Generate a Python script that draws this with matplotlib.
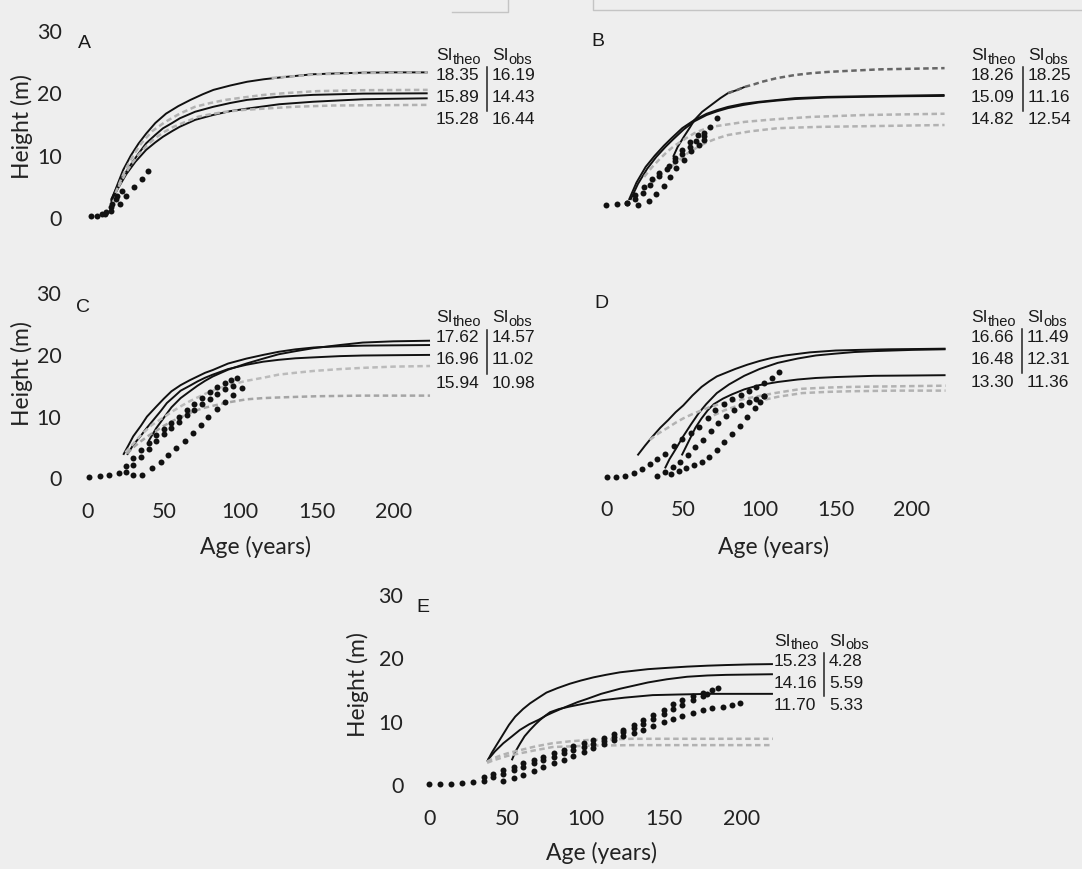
import matplotlib
matplotlib.use('Agg')
import matplotlib.pyplot as plt
from matplotlib.lines import Line2D

W, H = 1082, 869

# ---------------- Panel A ----------------
A_solid_age = [[15, 19, 23, 28, 33, 38, 44, 51, 59, 67, 75, 82, 93, 104, 115, 126, 147, 165, 180, 200, 222],
               [15, 20, 27, 33, 38, 44, 49, 55, 60, 70, 82, 93, 104, 125, 147, 180, 222],
               [16, 20, 25, 31, 38, 44, 49, 55, 60, 70, 82, 93, 104, 125, 147, 180, 222]]
A_solid_h = [[2.6, 5.2, 7.7, 10.0, 11.9, 13.5, 15.2, 16.7, 17.9, 18.9, 19.8, 20.5, 21.2, 21.8, 22.2, 22.5, 23.0, 23.15, 23.25, 23.3, 23.3],
             [2.9, 5.5, 8.2, 10.3, 11.95, 13.3, 14.35, 15.2, 15.95, 17.0, 17.8, 18.4, 18.9, 19.4, 19.7, 19.9, 19.95],
             [3.1, 4.9, 7.0, 9.0, 10.9, 12.1, 13.0, 13.9, 14.6, 15.7, 16.5, 17.1, 17.5, 18.2, 18.6, 19.0, 19.15]]
A_dash_age = [[18, 22, 25, 30, 35, 42, 50, 60, 70, 80, 90, 102, 115, 130, 150, 180, 222],
              [20, 24, 28, 33, 38, 44, 50, 56, 62, 72, 80, 90, 102, 115, 135, 160, 222],
              [120, 150, 180, 222]]
A_dash_h = [[4.0, 6.4, 8.0, 10.2, 12.0, 13.9, 15.3, 16.7, 17.8, 18.4, 18.9, 19.3, 19.7, 20.0, 20.3, 20.45, 20.5],
            [5.0, 6.9, 8.5, 10.1, 11.5, 12.8, 13.8, 14.6, 15.2, 16.2, 16.6, 17.0, 17.3, 17.5, 17.8, 18.0, 18.1],
            [22.4, 23.0, 23.2, 23.3]]
A_dot_age = [[2, 9, 15, 21, 25, 30, 35, 39],
             [6, 11, 15, 18, 22],
             [12, 16, 19]]
A_dot_h = [[0.35, 0.7, 1.2, 2.3, 3.5, 5.0, 6.3, 7.6],
           [0.4, 0.7, 1.7, 3.0, 4.4],
           [1.0, 2.2, 3.5]]
A_si_theo = [18.35, 15.89, 15.28]
A_si_obs = [16.19, 14.43, 16.44]

# ---------------- Panel B ----------------
B_solid_age = [[15, 20, 26, 32, 38, 43, 50, 58, 66, 73, 80, 90, 100, 112, 124, 145, 168, 195, 222],
               [16, 21, 27, 33, 39, 44, 51, 58, 66, 73, 80, 90, 100, 112, 124, 145, 168, 195, 222],
               [44, 47, 51, 55, 58, 63, 69, 75, 80, 86, 91]]
B_solid_h = [[0.8, 3.6, 6.1, 7.9, 9.5, 10.7, 12.3, 13.6, 14.6, 15.2, 15.7, 16.2, 16.5, 16.8, 17.1, 17.3, 17.4, 17.5, 17.6],
             [0.8, 3.4, 5.8, 7.7, 9.3, 10.5, 12.1, 13.4, 14.4, 15.0, 15.5, 16.0, 16.4, 16.7, 16.95, 17.2, 17.3, 17.4, 17.45],
             [7.7, 9.3, 10.9, 12.4, 13.6, 14.9, 16.0, 17.1, 17.9, 18.4, 18.9]]
B_dash_age = [[80, 86, 91, 97, 102, 112, 124, 135, 146, 162, 179, 200, 222],
              [25, 30, 35, 40, 45, 52, 58, 64, 69, 80, 91, 110, 135, 170, 222],
              [30, 36, 42, 48, 53, 59, 65, 72, 80, 95, 113, 140, 168, 222]]
B_dash_h = [[17.9, 18.4, 18.9, 19.3, 19.7, 20.3, 20.8, 21.1, 21.3, 21.5, 21.7, 21.8, 21.9],
            [4.5, 6.0, 7.3, 8.5, 9.5, 10.6, 11.5, 12.1, 12.5, 12.9, 13.3, 13.7, 14.1, 14.4, 14.6],
            [3.5, 4.8, 6.0, 7.2, 8.2, 9.1, 9.9, 10.6, 11.2, 11.8, 12.3, 12.5, 12.6, 12.8]]
B_dot_age = [[0, 7, 14, 19, 25, 30, 35, 41, 45, 50, 55, 60, 64, 68, 73],
             [14, 19, 24, 29, 35, 40, 45, 50, 55, 59, 64],
             [21, 28, 33, 38, 42, 46, 51, 56, 61, 64]]
B_dot_h = [[0, 0.16, 0.37, 1.6, 2.9, 4.1, 5.2, 6.2, 7.5, 8.8, 10.1, 11.2, 11.6, 12.5, 13.9],
           [0.4, 1.0, 2.0, 3.2, 4.6, 5.8, 7.0, 8.2, 9.3, 10.2, 11.0],
           [0, 0.7, 1.8, 3.1, 4.5, 6.0, 7.2, 8.7, 9.6, 10.4]]
B_si_theo = [18.26, 15.09, 14.82]
B_si_obs = [18.25, 11.16, 12.54]

# ---------------- Panel C ----------------
C_solid_age = [[23.5, 27, 30, 35, 39, 45, 50, 55, 61, 67, 72, 77, 82, 92, 104, 115, 125, 136, 148, 165, 180, 200, 224],
               [26, 30, 35, 39, 43, 48, 52, 57, 61, 67, 72, 77, 82, 92, 104, 115, 125, 136, 148, 165, 180, 200, 224],
               [40, 45, 50, 55, 61, 67, 72, 77, 82, 92, 104, 115, 125, 136, 148, 165, 180, 200, 224]]
C_solid_h = [[3.8, 5.4, 6.8, 8.5, 10.0, 11.6, 12.9, 14.1, 15.1, 15.9, 16.5, 17.1, 17.55, 18.6, 19.4, 20.0, 20.5, 20.9, 21.2, 21.4, 21.5, 21.55, 21.6],
             [3.8, 5.4, 6.9, 8.2, 9.4, 10.9, 12.2, 13.3, 14.2, 15.0, 15.7, 16.3, 16.8, 17.7, 18.4, 18.9, 19.2, 19.45, 19.6, 19.8, 19.9, 19.95, 20.0],
             [6.0, 8.1, 9.8, 11.5, 13.0, 14.1, 15.0, 15.8, 16.5, 17.6, 18.6, 19.4, 20.1, 20.6, 21.1, 21.6, 22.0, 22.2, 22.3]]
C_dash_age = [[25, 30, 35, 42, 50, 56, 62, 67, 72, 78, 85, 94, 104, 115, 125, 136, 148, 165, 180, 200, 224],
              [26, 30, 35, 40, 45, 50, 55, 61, 70, 76, 83, 92, 104, 115, 125, 137, 150, 180, 224]]
C_dash_h = [[4.2, 5.6, 7.0, 8.6, 9.9, 10.9, 11.8, 12.5, 13.1, 13.8, 14.5, 15.2, 15.8, 16.3, 16.8, 17.1, 17.4, 17.7, 17.9, 18.1, 18.2],
            [4.0, 5.0, 6.0, 6.9, 7.7, 8.5, 9.2, 9.9, 10.9, 11.4, 11.8, 12.3, 12.8, 13.0, 13.1, 13.2, 13.3, 13.4, 13.4]]
C_dot_age = [[1, 8, 14, 21, 25, 30, 35, 40, 45, 50, 55, 60, 65, 70, 75, 80, 85, 90, 94, 98],
             [25, 30, 35, 40, 45, 50, 55, 60, 65, 70, 75, 80, 85, 90, 95],
             [30, 36, 42, 48, 53, 58, 64, 69, 74, 79, 85, 90, 95, 101]]
C_dot_h = [[0.2, 0.3, 0.5, 0.8, 2.0, 3.3, 4.6, 5.8, 7.0, 8.0, 9.0, 10.0, 11.0, 12.0, 13.0, 14.0, 14.8, 15.5, 16.0, 16.3],
           [1.0, 2.2, 3.5, 4.8, 6.0, 7.1, 8.2, 9.2, 10.2, 11.1, 12.0, 12.9, 13.7, 14.4, 15.0],
           [0.5, 0.6, 1.6, 2.7, 3.8, 4.9, 6.0, 7.3, 8.7, 10.0, 11.2, 12.4, 13.5, 14.6]]
C_si_theo = [17.62, 16.96, 15.94]
C_si_obs = [14.57, 11.02, 10.98]

# ---------------- Panel D ----------------
D_solid_age = [[20, 25, 30, 35, 40, 45, 50, 56, 62, 67, 72, 78, 84, 92, 100, 108, 117, 133, 150, 165, 185, 205, 222],
               [38, 41, 45, 50, 55, 60, 65, 72, 80, 90, 100, 112, 125, 137, 150, 162, 175, 200, 222],
               [49, 52, 55, 58, 62, 66, 70, 76, 82, 90, 100, 112, 125, 137, 150, 175, 200, 222]]
D_solid_h = [[3.5, 5.1, 6.6, 8.0, 9.2, 10.5, 11.6, 13.2, 14.6, 15.5, 16.3, 16.9, 17.5, 18.2, 18.8, 19.3, 19.7, 20.2, 20.5, 20.6, 20.7, 20.75, 20.8],
             [1.4, 2.9, 4.5, 6.6, 8.5, 10.3, 11.8, 13.6, 15.0, 16.4, 17.5, 18.5, 19.2, 19.7, 20.0, 20.25, 20.4, 20.6, 20.7],
             [3.5, 5.0, 6.5, 8.0, 9.5, 10.8, 11.8, 12.7, 13.4, 14.2, 14.9, 15.4, 15.8, 16.05, 16.2, 16.4, 16.45, 16.5]]
D_dash_age = [[28, 34, 40, 45, 50, 56, 62, 68, 75, 85, 95, 110, 128, 145, 160, 190, 222],
              [70, 77, 85, 93, 101, 112, 128, 145, 160, 190, 222]]
D_dash_h = [[6.0, 7.1, 8.0, 8.8, 9.5, 10.2, 10.8, 11.4, 11.9, 12.4, 12.9, 13.6, 14.3, 14.5, 14.6, 14.7, 14.8],
            [10.0, 10.8, 11.5, 12.0, 12.4, 13.0, 13.6, 13.8, 13.9, 14.0, 14.0]]
D_dot_age = [[0, 6, 12, 18, 23, 28, 33, 38, 44, 49, 55, 60, 66, 71, 77, 82, 88, 93, 98, 103, 108, 113],
             [33, 38, 43, 48, 53, 58, 63, 68, 73, 78, 83, 88, 93, 98, 103],
             [42, 47, 52, 57, 62, 67, 72, 77, 82, 87, 92, 97, 100, 103]]
D_dot_h = [[0, 0, 0.2, 0.6, 1.3, 2.1, 2.9, 3.8, 5.0, 6.2, 7.2, 8.1, 9.5, 10.8, 11.8, 12.6, 13.3, 14.0, 14.6, 15.3, 16.1, 17.0],
           [0.2, 0.8, 1.6, 2.5, 3.6, 4.8, 6.0, 7.4, 8.8, 9.9, 10.8, 11.6, 12.2, 12.7, 13.2],
           [0.5, 0.9, 1.4, 1.9, 2.5, 3.3, 4.3, 5.6, 7.0, 8.3, 9.7, 11.2, 12.2, 13.1]]
D_si_theo = [16.66, 16.48, 13.30]
D_si_obs = [11.49, 12.31, 11.36]

# ---------------- Panel E ----------------
E_solid_age = [[37, 40, 44, 47.5, 51, 55, 60, 64.5, 70, 75, 82, 90, 97, 105, 113, 122, 131, 140, 152, 165, 178, 190, 205, 220],
               [37.6, 42, 47.4, 53, 58, 64, 70, 75, 79.4, 85, 90, 95, 101, 110, 122, 131, 140, 152, 165, 178, 190, 205, 220],
               [52.8, 55, 58, 61, 64.5, 68, 71, 74, 77.3, 83, 90, 100, 111, 125, 143, 160, 180, 200, 220]]
E_solid_h = [[3.7, 5.1, 6.7, 8.1, 9.5, 10.8, 12.0, 12.9, 13.8, 14.6, 15.3, 16.0, 16.5, 17.0, 17.4, 17.8, 18.05, 18.3, 18.5, 18.7, 18.85, 18.95, 19.05, 19.1],
             [4.0, 5.3, 6.6, 7.7, 8.7, 9.6, 10.3, 11.0, 11.5, 12.1, 12.6, 13.1, 13.6, 14.4, 15.2, 15.7, 16.2, 16.7, 17.1, 17.3, 17.4, 17.45, 17.5],
             [3.9, 5.2, 6.5, 7.7, 8.7, 9.6, 10.3, 10.9, 11.5, 12.0, 12.4, 12.9, 13.4, 13.8, 14.2, 14.3, 14.4, 14.4, 14.4]]
E_dash_age = [[37, 41, 45, 50, 58, 68, 79, 90, 101, 115, 130, 160, 220],
              [37, 41, 45, 50, 58, 68, 79, 90, 101, 115, 130, 160, 220]]
E_dash_h = [[3.7, 4.2, 4.6, 5.0, 5.5, 6.1, 6.6, 6.9, 7.1, 7.2, 7.3, 7.3, 7.3],
            [3.5, 3.9, 4.2, 4.6, 5.0, 5.5, 6.0, 6.1, 6.2, 6.25, 6.3, 6.3, 6.3]]
E_dot_age = [[0, 7, 14, 21, 28, 35, 41, 47, 54, 60, 67, 73, 80, 86, 92, 99, 105, 112, 118, 124, 131, 137, 143, 150, 156, 162, 169, 175, 181, 185],
             [35, 41, 47, 54, 60, 67, 73, 80, 86, 92, 99, 105, 112, 118, 124, 131, 137, 143, 150, 156, 162, 169, 175, 178],
             [47, 54, 60, 67, 73, 80, 86, 92, 99, 105, 112, 118, 124, 131, 137, 143, 150, 156, 162, 169, 175, 181, 188, 194, 199]]
E_dot_h = [[0.15, 0.15, 0.15, 0.25, 0.5, 1.2, 1.8, 2.3, 2.9, 3.4, 3.9, 4.5, 5.1, 5.6, 6.1, 6.7, 7.1, 7.5, 8.0, 8.7, 9.5, 10.3, 11.1, 11.9, 12.8, 13.5, 14.1, 14.6, 15.0, 15.3],
           [0.7, 1.3, 1.8, 2.4, 2.9, 3.4, 3.9, 4.5, 5.0, 5.5, 6.0, 6.5, 7.0, 7.6, 8.3, 9.0, 9.7, 10.4, 11.2, 12.0, 12.7, 13.4, 14.0, 14.3],
           [0.6, 1.1, 1.6, 2.2, 2.8, 3.4, 4.0, 4.6, 5.2, 5.8, 6.5, 7.1, 7.7, 8.2, 8.7, 9.3, 9.9, 10.4, 10.9, 11.4, 11.8, 12.1, 12.4, 12.7, 12.9]]
E_si_theo = [15.23, 14.16, 11.70]
E_si_obs = [4.28, 5.59, 5.33]

x_ticks = [0, 50, 100, 150, 200]
y_ticks = [0, 10, 20, 30]
panel_letters = ['A', 'B', 'C', 'D', 'E']

BG = '#eeeeee'
fig = plt.figure(figsize=(W / 100, H / 100), dpi=100, facecolor=BG)
renderer = fig.canvas.get_renderer()

TICKFONT = dict(family='Lato', size=15.5, color='#222222')
LABELFONT = dict(family='Lato', size=16.5, color='#222222')
SI_SIZE = 12.5
SUB_SIZE = 10.5


def fx(x):
    return x / W


def fy(y):
    return 1 - y / H


def add_panel(px0, sx, py0, sy, show_x, show_y, xmin=-6, xmax=228, ymin=-2, ymax=31):
    left = px0 + xmin * sx
    right = px0 + xmax * sx
    top = py0 - ymax * sy
    bottom = py0 - ymin * sy
    ax = fig.add_axes([left / W, 1 - bottom / H, (right - left) / W, (bottom - top) / H])
    ax.set_xlim(xmin, xmax)
    ax.set_ylim(ymin, ymax)
    ax.patch.set_visible(False)
    for s in ax.spines.values():
        s.set_visible(False)
    ax.tick_params(length=0)
    if show_x:
        ax.set_xticks(x_ticks)
        ax.set_xticklabels([str(v) for v in x_ticks], fontdict=TICKFONT)
        ax.tick_params(axis='x', pad=8)
    else:
        ax.set_xticks([])
    if show_y:
        ax.set_yticks(y_ticks)
        ax.set_yticklabels([str(v) for v in y_ticks], fontdict=TICKFONT)
        ax.tick_params(axis='y', pad=12)
    else:
        ax.set_yticks([])
    return ax


def draw(ax, solid_age, solid_h, dash_age, dash_h, dot_age, dot_h, dash_colors=None):
    for a, h in zip(solid_age, solid_h):
        ax.plot(a, h, color='#111111', lw=1.4, solid_capstyle='butt', solid_joinstyle='round')
    for i, (a, h) in enumerate(zip(dash_age, dash_h)):
        c = '#b2b2b2' if dash_colors is None else dash_colors[i]
        ax.plot(a, h, color=c, lw=1.8, dashes=(2.2, 1.4))
    for a, h in zip(dot_age, dot_h):
        ax.plot(a, h, ls='none', marker='o', ms=4.3, color='#111111', mec='none')


def si_label(x, y, sub):
    t = fig.text(fx(x), fy(y), 'SI', va='center', ha='left', family='Liberation Sans',
                 size=SI_SIZE, color='#1a1a1a')
    bb = t.get_window_extent(renderer)
    fig.text(bb.x1 / W + 0.3 / W, fy(y + 4), sub, va='center', ha='left', family='Liberation Sans',
             size=SUB_SIZE, color='#1a1a1a')


def si_block(col1, hy, rows, col2, barx, theo, obs):
    si_label(col1, hy, 'theo')
    si_label(col2, hy, 'obs')
    for y, t, o in zip(rows, theo, obs):
        fig.text(fx(col1), fy(y), f'{t:.2f}', va='center', ha='left', family='Liberation Sans',
                 size=SI_SIZE, color='#1a1a1a')
        fig.text(fx(col2), fy(y), f'{o:.2f}', va='center', ha='left', family='Liberation Sans',
                 size=SI_SIZE, color='#1a1a1a')
    fig.add_artist(Line2D([fx(barx), fx(barx)], [fy(rows[0] - 8), fy(rows[2] - 9)],
                          color='#222222', lw=1.1))


# panel A
axA = add_panel(88, 1.53, 218, 6.25, False, True)
draw(axA, A_solid_age, A_solid_h, A_dash_age, A_dash_h, A_dot_age, A_dot_h)
# panel B
axB = add_panel(606, 1.525, 205, 6.25, False, False)
draw(axB, B_solid_age, B_solid_h, B_dash_age, B_dash_h, B_dot_age, B_dot_h,
     dash_colors=['#666666', '#b2b2b2', '#b2b2b2'])
# panel C
axC = add_panel(87.3, 1.53, 478.3, 6.17, True, True)
draw(axC, C_solid_age, C_solid_h, C_dash_age, C_dash_h, C_dot_age, C_dot_h,
     dash_colors=['#bbbbbb', '#a5a5a5'])
# panel D
axD = add_panel(607, 1.525, 477, 6.17, True, False)
draw(axD, D_solid_age, D_solid_h, D_dash_age, D_dash_h, D_dot_age, D_dot_h)
# panel E
axE = add_panel(429.3, 1.562, 785, 6.33, True, True)
draw(axE, E_solid_age, E_solid_h, E_dash_age, E_dash_h, E_dot_age, E_dot_h)

# axis labels
for (x, y) in [(22, 127), (22, 374), (358, 685)]:
    fig.text(fx(x), fy(y), 'Height (m)', rotation=90, ha='center', va='center', **LABELFONT)
for (x, y) in [(256, 547), (773, 547), (602, 853)]:
    fig.text(fx(x), fy(y), 'Age (years)', ha='center', va='center', **LABELFONT)

# panel letters
for letter, (x, y) in zip(panel_letters, [(84, 43), (598, 42), (83, 307), (601, 303), (423, 607)]):
    fig.text(fx(x), fy(y), letter, ha='center', va='center', family='Liberation Sans',
             size=14, color='#1a1a1a')

# SI blocks
si_block(436, 56, [75, 97, 120], 492, 487, A_si_theo, A_si_obs)
si_block(971, 56, [75, 97, 120], 1028, 1023, B_si_theo, B_si_obs)
si_block(436, 318, [338, 360, 383], 492, 487, C_si_theo, C_si_obs)
si_block(971, 318, [337, 360, 382], 1027, 1022, D_si_theo, D_si_obs)
si_block(774, 641, [661, 683, 705], 829, 824, E_si_theo, E_si_obs)

# faint scan frame fragments at the top
fig.add_artist(Line2D([fx(452), fx(508), fx(508)], [fy(12), fy(12), fy(0)], color='#c4c4c4', lw=1))
fig.add_artist(Line2D([fx(593), fx(593), fx(1082)], [fy(0), fy(10), fy(10)], color='#c4c4c4', lw=1))

fig.savefig('out.png', dpi=100, facecolor=BG)
